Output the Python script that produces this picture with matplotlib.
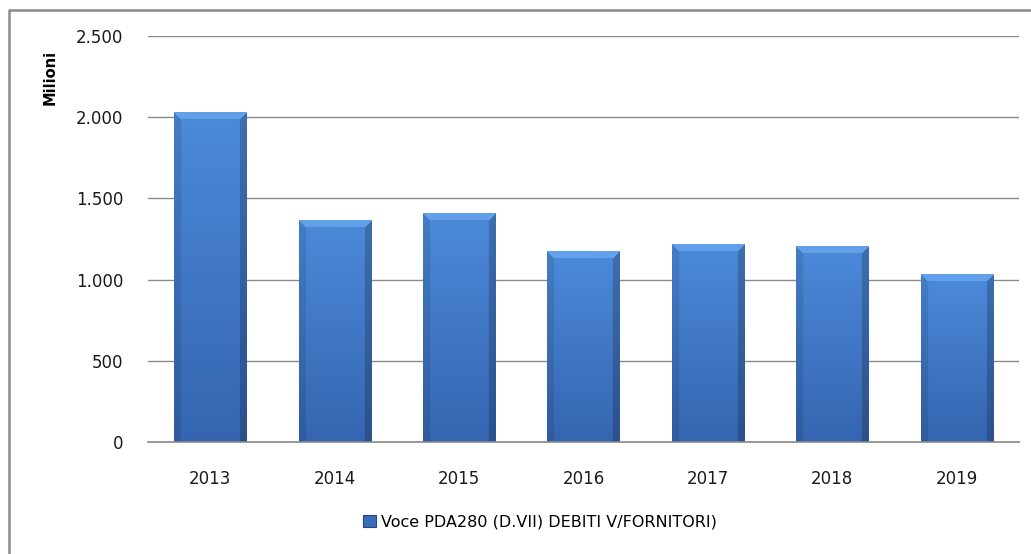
from matplotlib import pyplot as plt
from matplotlib.ticker import FuncFormatter, MultipleLocator
from matplotlib.patches import Patch
from matplotlib.lines import Line2D
import matplotlib.colors as mcolors
import numpy as np

years = ["2013", "2014", "2015", "2016", "2017", "2018", "2019"]
values = [2026, 1361, 1410, 1172, 1219, 1201, 1034]
series_name = "Voce PDA280 (D.VII) DEBITI V/FORNITORI)"
y_label = "Milioni"


def shaded_bar(w, h, bevel=7):
    # pixel-ish image of a bevelled bar: top light, sides dark, vertical gradient
    top = np.array(mcolors.to_rgb("#4c8ad9"))
    bot = np.array(mcolors.to_rgb("#3565b0"))
    img = np.zeros((h, w, 3))
    for i in range(h):
        base = top + (bot - top) * i / max(h - 1, 1)
        for j in range(w):
            dl, dr, dt = j, w - 1 - j, i
            m = min(dl, dr, dt)
            c = base
            if m < bevel:
                if dt == m:
                    c = np.array(mcolors.to_rgb("#62a0ea"))
                elif dl == m:
                    c = base * 0.9
                else:
                    c = base * 0.8
            img[i, j] = c
    return img


fig = plt.figure(figsize=(10.31, 5.54), dpi=100)
ax = fig.add_axes([148 / 1031, 1 - 442 / 554, 871 / 1031, 406 / 554])

x = np.arange(len(years))
bars = ax.bar(x, values, width=0.58, color="#3f78c8", zorder=2)

ax.yaxis.set_major_locator(MultipleLocator(500))
ax.yaxis.set_major_formatter(FuncFormatter(lambda v, p: f"{int(v):,}".replace(",", ".")))
ax.grid(axis="y", color="#8a8a8a", linewidth=1.0, zorder=0)
ax.set_axisbelow(True)
for s in ax.spines.values():
    s.set_visible(False)
ax.axhline(0, color="#8a8a8a", linewidth=1.2, zorder=4, clip_on=False)
ax.tick_params(axis="both", length=0, labelsize=12, colors="#1a1a1a")
ax.tick_params(axis="x", pad=20)
ax.tick_params(axis="y", pad=18)
ax.set_xticks(x)
ax.set_xticklabels(years)

# gradient overlay for each bar
px_per_unit = 406 / 2500
for b, v in zip(bars, values):
    hpx = int(round(v * px_per_unit))
    img = shaded_bar(72, hpx)
    ax.imshow(img, extent=(b.get_x(), b.get_x() + b.get_width(), 0, v),
              aspect="auto", zorder=3, interpolation="bilinear")
ax.set_xlim(-0.5, len(years) - 0.5)
ax.set_ylim(0, 2500)

fig.text(50 / 1031, 1 - 77 / 554, y_label, rotation=90, fontsize=10.5,
         fontweight="bold", ha="center", va="center")

handle = Patch(facecolor="#3a6db8", edgecolor="#24477c", linewidth=0.8)
fig.legend([handle], [series_name], loc="center", bbox_to_anchor=(540 / 1031, 1 - 522 / 554),
           frameon=False, fontsize=11.5, handlelength=0.8, handleheight=0.8, handletextpad=0.3)

# outer frame, only left and top edges show
fx, fy = 9 / 1031, 1 - 10 / 554
fig.lines.append(Line2D([fx, fx, 1.0], [0.0, fy, fy], transform=fig.transFigure,
                        color="#8c8c8c", linewidth=1.8))

fig.savefig("out.png", dpi=100)
